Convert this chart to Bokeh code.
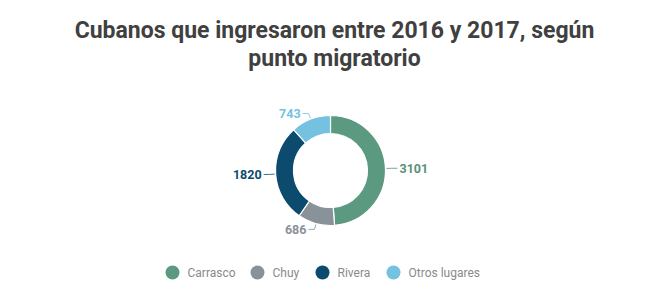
import math
from bokeh.plotting import figure
from bokeh.models import Range1d, ColumnDataSource
from bokeh.core.properties import value
from bokeh.embed import file_html
from bokeh.resources import INLINE

# ---- data ----
categories = ["Carrasco", "Chuy", "Rivera", "Otros lugares"]
counts = [3101, 686, 1820, 743]
colors = ["#5b9a80", "#8a9299", "#0c4a6e", "#74c2e0"]
label_colors = ["#5b8f7a", "#8a9299", "#0c4a6e", "#74c2e0"]
title_lines = ["Cubanos que ingresaron entre 2016 y 2017, según", "punto migratorio"]

W, H = 668, 306
p = figure(width=W, height=H, output_backend="svg", toolbar_location=None,
           x_range=Range1d(0, W), y_range=Range1d(0, H), min_border=0)
p.axis.visible = False
p.grid.visible = False
p.outline_line_color = None
p.background_fill_color = "white"
p.border_fill_color = "white"

def sy(y):
    return H - y

cx, cy = 330, sy(170)
R_in, R_out = 37, 55

total = sum(counts)
starts, ends, mids = [], [], []
acc = 0
for c in counts:
    f0 = acc / total
    acc += c
    f1 = acc / total
    starts.append(math.pi / 2 - f0 * 2 * math.pi)
    ends.append(math.pi / 2 - f1 * 2 * math.pi)
    mids.append(math.pi / 2 - (f0 + f1) / 2 * 2 * math.pi)

src = ColumnDataSource(dict(x=[cx] * 4, y=[cy] * 4, s=starts, e=ends, c=colors))
p.annular_wedge(x="x", y="y", inner_radius=R_in, outer_radius=R_out,
                start_angle="s", end_angle="e", direction="clock",
                fill_color="c", line_color="white", line_width=1.2, source=src)

# leader lines and value labels
for cnt, th, lc in zip(counts, mids, label_colors):
    ca, sa = math.cos(th), math.sin(th)
    x1, y1 = cx + (R_out + 1) * ca, cy + (R_out + 1) * sa
    x2, y2 = cx + (R_out + 6) * ca, cy + (R_out + 6) * sa
    sgn = 1 if ca >= 0 else -1
    x3 = x2 + sgn * 6
    p.line([x1, x2, x3], [y1, y2, y2], line_color=lc, line_width=1, line_alpha=0.8)
    p.text(x=[x3 + sgn * 2], y=[y2], text=[str(cnt)],
           text_align="left" if sgn > 0 else "right", text_baseline="middle",
           text_font=value("Roboto"), text_font_size="12.5px", text_font_style="bold",
           text_color=lc)

# title
p.text(x=[W / 2, W / 2], y=[sy(30), sy(58)], text=title_lines,
       text_align="center", text_baseline="middle",
       text_font=value("Roboto"), text_font_size="23px", text_font_style="bold",
       text_color="#404040")

# legend
leg_x = [172, 257, 322, 393]
leg_y = sy(272)
p.scatter(x=leg_x, y=[leg_y] * 4, size=14, marker="circle",
          fill_color=colors, line_color=None)
p.text(x=[x + 15 for x in leg_x], y=[leg_y] * 4, text=categories,
       text_align="left", text_baseline="middle",
       text_font=value("Roboto"), text_font_size="12px", text_color="#8a8a8a")

open("out.html", "w").write(file_html(p, INLINE))
